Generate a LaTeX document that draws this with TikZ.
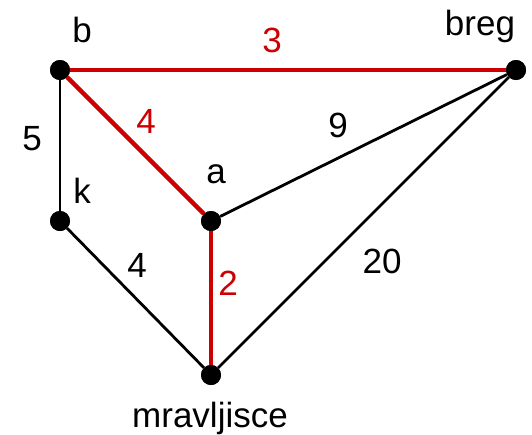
\documentclass[tikz,border=0pt]{standalone}
\usepackage{fontspec}
\setmainfont{Liberation Sans}
\usepackage{tikz}
\usetikzlibrary{positioning}
\definecolor{Ink}{HTML}{000000}
\definecolor{Path}{HTML}{CC0000}
\tikzset{
  vertex/.style={circle,fill=Ink,inner sep=0pt,minimum size=20pt},
  vlabel/.style={anchor=base,text=Ink,inner sep=0pt,font=\fontsize{35}{42}\selectfont},
  wlabel/.style={vlabel},
  wred/.style={vlabel,text=Path},
  edge/.style={line width=2.8pt,draw=Ink},
  redge/.style={line width=4.5pt,draw=Path}
}

\begin{document}
\begin{tikzpicture}[x=1pt,y=-1pt]
\useasboundingbox (0,0) rectangle (532,434);
% vertices
\node[vertex] (b) at (60,70) {};
\node[vertex] (breg) at (516,70) {};
\node[vertex] (k) at (60,221) {};
\node[vertex] (a) at (211,221) {};
\node[vertex] (m) at (211,375) {};
% edges
\draw[edge] (b)--(k);\draw[edge] (k)--(m);\draw[edge] (a)--(breg);\draw[edge] (m)--(breg);
\draw[redge] (b)--(breg);\draw[redge] (b)--(a);\draw[redge] (a)--(m);
\foreach \v in {b,breg,k,a,m} \node[vertex] at (\v) {};
% names
\node[vlabel] (lb) at (82,42) {b};
\node[vlabel] (lbreg) at (480,35) {breg};
\node[vlabel] (lk) at (82,203) {k};
\node[vlabel] (la) at (216,183) {a};
\node[vlabel] (lm) at (210,427) {mravljisce};
% weights
\node[wred] (w3) at (272,52) {3};
\node[wred] (w4r) at (146,133) {4};
\node[wlabel] (w5) at (32,150) {5};
\node[wlabel] (w9) at (338,137) {9};
\node[wlabel] (w4) at (137,277) {4};
\node[wred] (w2) at (228,295) {2};
\node[wlabel] (w20) at (382,273) {20};
\end{tikzpicture}
\end{document}
